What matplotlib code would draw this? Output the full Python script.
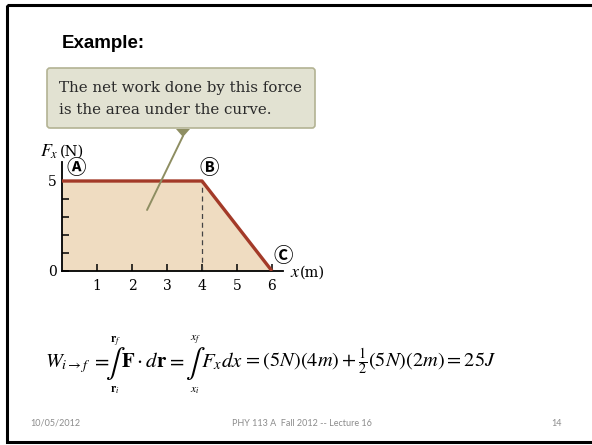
import matplotlib.pyplot as plt
from matplotlib.patches import FancyBboxPatch, Rectangle, Polygon

plt.rcParams['mathtext.fontset'] = 'stix'

# force curve F_x(x): constant 5 N up to 4 m, then falling to zero at 6 m
x_pts = [0, 4, 6]
fx_pts = [5, 5, 0]
x_ticks = [1, 2, 3, 4, 5, 6]
y_minor = [1, 2, 3, 4]
y_labels = [0, 5]
point_names = ['\u24b6', '\u24b7', '\u24b8']
point_xy = [(0.42, 5.68), (4.2, 5.68), (6.31, 0.83)]

FILL = '#efdcc1'
CURVE = '#a33a28'
SERIF = 'DejaVu Serif'
CIRCLED = ['Noto Sans CJK JP', 'DejaVu Sans']

W, H = 592, 445
fig = plt.figure(figsize=(W / 100, H / 100), dpi=100)

# slide canvas in pixel units (y down)
bg = fig.add_axes([0, 0, 1, 1])
bg.set_xlim(0, W)
bg.set_ylim(H, 0)
bg.axis('off')
bg.add_patch(Rectangle((7, 5), 600, 437, fill=False, lw=2.2, ec='black'))

bg.text(62, 43, 'Example:', fontsize=13.5, fontweight='bold',
        family='Liberation Sans', va='center')

# callout box
bg.add_patch(FancyBboxPatch((47, 68), 268, 60,
                            boxstyle='round,pad=0,rounding_size=3',
                            fc='#e2e2d2', ec='#b3b393', lw=1.2))
bg.add_patch(Polygon([(176, 129), (190, 129), (183, 137)],
                     closed=True, fc='#8e8e62', ec='none'))
bg.text(59, 88, 'The net work done by this force', fontsize=10.8,
        family=SERIF, va='center', color='#2a2a2a')
bg.text(59, 110, 'is the area under the curve.', fontsize=10.8,
        family=SERIF, va='center', color='#2a2a2a')

# force vs position graph
x0, y0 = 62, 271          # pixel position of the origin
sx, sy = 35, 18           # pixels per unit
xmax, ymax = 6.3, 6.05
ax = fig.add_axes([x0 / W, (H - y0) / H, xmax * sx / W, ymax * sy / H])
ax.patch.set_alpha(0)
ax.set_xlim(0, xmax)
ax.set_ylim(0, ymax)
for s in ('top', 'right'):
    ax.spines[s].set_visible(False)
for s in ('left', 'bottom'):
    ax.spines[s].set_linewidth(1.3)

ax.fill_between(x_pts, fx_pts, 0, color=FILL, lw=0, zorder=1)
ax.plot([x_pts[1], x_pts[1]], [0, fx_pts[1]], ls=(0, (4, 3)),
        color='#444444', lw=0.9, zorder=2)
ax.plot(x_pts, fx_pts, color=CURVE, lw=2.4, solid_capstyle='butt', zorder=3)

ax.set_xticks(x_ticks)
ax.set_xticklabels([str(t) for t in x_ticks], family=SERIF, fontsize=10)
ax.tick_params(axis='x', direction='in', length=5, width=1.1, pad=6)
ax.set_yticks(y_minor + y_labels)
ax.set_yticklabels([''] * len(y_minor) + [str(v) for v in y_labels],
                   family=SERIF, fontsize=10)
ax.tick_params(axis='y', direction='in', length=5, width=1.1, pad=4)

for name, (px, py) in zip(point_names, point_xy):
    ax.text(px, py, name, fontsize=14, fontweight='bold', family=CIRCLED,
            ha='center', va='center', clip_on=False)

ax.text(-0.63, 6.6, '$F_x$', fontsize=13, ha='left', va='center')
ax.text(-0.07, 6.62, '(N)', fontsize=10.5, family=SERIF, ha='left', va='center')
ax.text(6.5, -0.08, '$x$', fontsize=13, ha='left', va='center')
ax.text(6.8, -0.08, '(m)', fontsize=10.5, family=SERIF, ha='left', va='center')

ax.annotate('', xy=(2.43, 3.39), xycoords='data',
            xytext=(183, 136), textcoords=bg.transData,
            arrowprops=dict(arrowstyle='-', color='#8e8e62', lw=1.4,
                            shrinkA=0, shrinkB=0),
            annotation_clip=False)

# work integral, laid out piece by piece along one baseline
yb = 367
eq = dict(fontsize=15, va='baseline', color='black')
lim = dict(fontsize=8.5, va='center', color='black')
bg.text(45, yb, r'$W_{i\rightarrow f}$', fontsize=14.5, va='baseline')
bg.text(91, yb, r'$=$', **eq)
bg.text(105, yb + 4, r'$\int$', fontsize=21, va='baseline')
bg.text(110, 342, r'$\mathbf{r}_f$', **lim)
bg.text(110, 389, r'$\mathbf{r}_i$', **lim)
bg.text(121, yb, r'$\mathbf{F}\cdot d\mathbf{r}$', **eq)
bg.text(166, yb, r'$=$', **eq)
bg.text(185, yb + 4, r'$\int$', fontsize=21, va='baseline')
bg.text(190, 340, r'$x_f$', **lim)
bg.text(190, 390, r'$x_i$', **lim)
bg.text(201, yb, r'$F_x dx$', **eq)
bg.text(243, yb, r'$= (5N)(4m) + \frac{1}{2}\left(5N\right)\left(2m\right) = 25J$',
        fontsize=14.7, va='baseline', color='black')

foot = dict(fontsize=6.5, family='Lato', color='#8c8c8c', va='center')
bg.text(30, 423, '10/05/2012', **foot)
bg.text(302, 423, 'PHY 113 A  Fall 2012 -- Lecture 16', ha='center', **foot)
bg.text(562, 423, '14', ha='right', **foot)

fig.savefig('out.png', dpi=100)
